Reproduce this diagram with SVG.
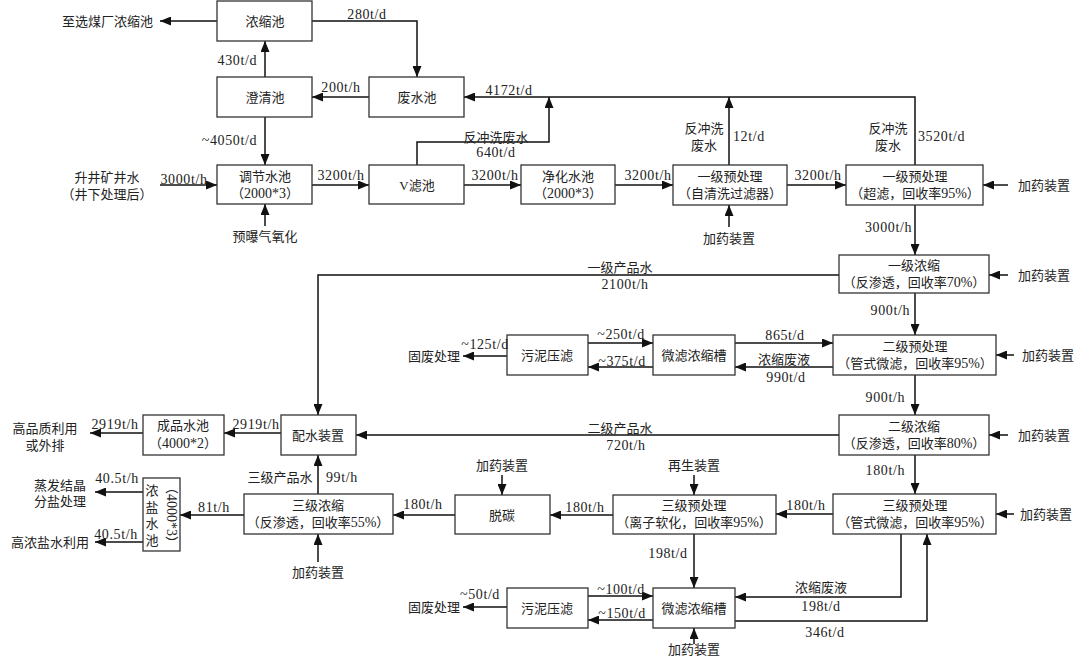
<svg xmlns="http://www.w3.org/2000/svg" width="1080" height="656" viewBox="0 0 1080 656">
<defs>
<marker id="ah" markerUnits="userSpaceOnUse" markerWidth="11" markerHeight="9" refX="11" refY="4.5" orient="auto">
<path d="M0,0 L11,4.5 L0,9 z" fill="#111"/>
</marker>
<style>
text{font-family:"Liberation Serif","Noto Sans CJK SC",serif;font-size:13px;fill:#222;}
.m{text-anchor:middle;}
.e{text-anchor:end;}
.d{font-size:14px;letter-spacing:0.6px;}
tspan.n{font-size:14px;}
rect{fill:#fff;stroke:#333;stroke-width:1.3;}
#connectors path{fill:none;stroke:#111;stroke-width:1.5;marker-end:url(#ah);}
</style>
</defs>
<rect x="0" y="0" width="1080" height="656" style="fill:#fff;stroke:none"/>

<g id="connectors">
<path d="M217,21 H160"/>
<path d="M312,21 H417 V77"/>
<path d="M265,77 V41"/>
<path d="M369,97 H312"/>
<path d="M265,117 V165"/>
<path d="M160,185 H217"/>
<path d="M265,226 V204"/>
<path d="M312,185 H369"/>
<path d="M464,185 H521"/>
<path d="M615,185 H673"/>
<path d="M787,185 H846"/>
<path d="M915,165 V97 H464"/>
<path d="M729,165 V97"/>
<path d="M417,165 V142 H549 V97"/>
<path d="M729,227 V205"/>
<path d="M1008,185 H983"/>
<path d="M915,205 V255"/>
<path d="M1008,275 H989"/>
<path d="M839,275 H318 V415"/>
<path d="M915,293 V335"/>
<path d="M1014,355 H996"/>
<path d="M735,343 H833"/>
<path d="M833,367 H735"/>
<path d="M588,343 H653"/>
<path d="M653,367 H588"/>
<path d="M507,356 H463"/>
<path d="M915,375 V415"/>
<path d="M1008,435 H989"/>
<path d="M839,435 H356"/>
<path d="M915,455 V494"/>
<path d="M1014,514 H996"/>
<path d="M833,514 H776"/>
<path d="M613,515 H550"/>
<path d="M455,515 H393"/>
<path d="M502,475 V495"/>
<path d="M694,475 V495"/>
<path d="M694,534 V588"/>
<path d="M901,534 V597 H735"/>
<path d="M735,621 H927 V534"/>
<path d="M588,596 H653"/>
<path d="M653,620 H588"/>
<path d="M507,607 H463"/>
<path d="M694,644 V628"/>
<path d="M244,515 H180"/>
<path d="M318,494 V455"/>
<path d="M318,562 V534"/>
<path d="M281,433 H224"/>
<path d="M143,433 H90"/>
<path d="M143,492 H95"/>
<path d="M143,542 H95"/>
</g>

<g id="n_nongsuochi"><rect x="217" y="1" width="95" height="40"/><text class="m" x="265" y="26">浓缩池</text></g>
<g id="n_chengqingchi"><rect x="217" y="77" width="95" height="40"/><text class="m" x="265" y="102">澄清池</text></g>
<g id="n_feishuichi"><rect x="369" y="77" width="95" height="40"/><text class="m" x="417" y="102">废水池</text></g>
<g id="n_tiaojie"><rect x="217" y="165" width="95" height="39"/><text class="m" x="265" y="181">调节水池</text><text class="m" x="265" y="198">（<tspan class="n">2000*3</tspan>）</text></g>
<g id="n_vlv"><rect x="369" y="165" width="95" height="39"/><text class="m" x="417" y="190">V滤池</text></g>
<g id="n_jinghua"><rect x="521" y="165" width="94" height="39"/><text class="m" x="568" y="181">净化水池</text><text class="m" x="568" y="198">（<tspan class="n">2000*3</tspan>）</text></g>
<g id="n_yiji_yu1"><rect x="673" y="165" width="114" height="40"/><text class="m" x="730" y="181">一级预处理</text><text class="m" x="730" y="198">（自清洗过滤器）</text></g>
<g id="n_yiji_yu2"><rect x="846" y="165" width="137" height="40"/><text class="m" x="915" y="181">一级预处理</text><text class="m" x="915" y="198">（超滤，回收率<tspan class="n">95%</tspan>）</text></g>
<g id="n_yiji_nong"><rect x="839" y="255" width="150" height="38"/><text class="m" x="914" y="270">一级浓缩</text><text class="m" x="914" y="287">（反渗透，回收率<tspan class="n">70%</tspan>）</text></g>
<g id="n_erji_yu"><rect x="833" y="335" width="163" height="40"/><text class="m" x="915" y="351">二级预处理</text><text class="m" x="915" y="368">（管式微滤，回收率<tspan class="n">95%</tspan>）</text></g>
<g id="n_erji_nong"><rect x="839" y="415" width="150" height="40"/><text class="m" x="914" y="431">二级浓缩</text><text class="m" x="914" y="448">（反渗透，回收率<tspan class="n">80%</tspan>）</text></g>
<g id="n_sanji_yu2"><rect x="833" y="494" width="163" height="40"/><text class="m" x="915" y="510">三级预处理</text><text class="m" x="915" y="527">（管式微滤，回收率<tspan class="n">95%</tspan>）</text></g>
<g id="n_wuni1"><rect x="507" y="335" width="81" height="40"/><text class="m" x="547" y="360">污泥压滤</text></g>
<g id="n_weilv1"><rect x="653" y="335" width="82" height="40"/><text class="m" x="694" y="360">微滤浓缩槽</text></g>
<g id="n_peishui"><rect x="281" y="415" width="75" height="40"/><text class="m" x="318" y="440">配水装置</text></g>
<g id="n_chengpin"><rect x="143" y="415" width="81" height="40"/><text class="m" x="183" y="430">成品水池</text><text class="m" x="183" y="448">（<tspan class="n">4000*2</tspan>）</text></g>
<g id="n_sanji_nong"><rect x="244" y="494" width="149" height="40"/><text class="m" x="318" y="510">三级浓缩</text><text class="m" x="318" y="527">（反渗透，回收率<tspan class="n">55%</tspan>）</text></g>
<g id="n_tuotan"><rect x="455" y="495" width="95" height="39"/><text class="m" x="502" y="520">脱碳</text></g>
<g id="n_sanji_yu1"><rect x="613" y="495" width="163" height="39"/><text class="m" x="694" y="510">三级预处理</text><text class="m" x="694" y="527">（离子软化，回收率<tspan class="n">95%</tspan>）</text></g>
<g id="n_wuni2"><rect x="507" y="588" width="81" height="40"/><text class="m" x="547" y="613">污泥压滤</text></g>
<g id="n_weilv2"><rect x="653" y="588" width="82" height="40"/><text class="m" x="694" y="613">微滤浓缩槽</text></g>
<g id="n_nongyan"><rect x="143" y="478" width="37" height="73"/>
<text class="m" x="152" y="495">浓</text><text class="m" x="152" y="512">盐</text><text class="m" x="152" y="528">水</text><text class="m" x="152" y="545">池</text>
<text class="m" transform="translate(171,515) rotate(90)" x="0" y="4">（<tspan class="n">4000*3</tspan>）</text></g>

<g id="labels">
<text class="e" x="153" y="26">至选煤厂浓缩池</text>
<text class="m d" x="367" y="19">280t/d</text>
<text class="e d" x="257" y="65">430t/d</text>
<text class="m d" x="341" y="92">200t/h</text>
<text class="e d" x="257" y="145">~4050t/d</text>
<text class="m" x="107" y="182">升井矿井水</text>
<text class="m" x="107" y="199">（井下处理后）</text>
<text class="m d" x="184" y="184">3000t/h</text>
<text class="m d" x="341" y="180">3200t/h</text>
<text class="m d" x="495" y="180">3200t/h</text>
<text class="m d" x="648" y="180">3200t/h</text>
<text class="m d" x="818" y="180">3200t/h</text>
<text class="m" x="265" y="241">预曝气氧化</text>
<text class="m d" x="509" y="95">4172t/d</text>
<text class="m" x="496" y="142">反冲洗废水</text>
<text class="m d" x="496" y="157">640t/d</text>
<text class="m" x="704" y="133">反冲洗</text>
<text class="m" x="704" y="150">废水</text>
<text class="d" x="733" y="141">12t/d</text>
<text class="m" x="888" y="133">反冲洗</text>
<text class="m" x="888" y="150">废水</text>
<text class="d" x="918" y="141">3520t/d</text>
<text class="m" x="729" y="243">加药装置</text>
<text x="1018" y="190">加药装置</text>
<text class="e d" x="912" y="232">3000t/h</text>
<text x="1018" y="280">加药装置</text>
<text class="m" x="620" y="272">一级产品水</text>
<text class="m d" x="625" y="289">2100t/h</text>
<text class="e d" x="910" y="315">900t/h</text>
<text class="m d" x="785" y="340">865t/d</text>
<text class="m" x="784" y="364">浓缩废液</text>
<text class="m d" x="786" y="382">990t/d</text>
<text x="1022" y="360">加药装置</text>
<text class="m d" x="621" y="339">~250t/d</text>
<text class="m d" x="622" y="366">~375t/d</text>
<text class="m d" x="485" y="349">~125t/d</text>
<text class="m" x="434" y="361">固废处理</text>
<text class="e d" x="905" y="402">900t/h</text>
<text x="1018" y="440">加药装置</text>
<text class="m" x="620" y="433">二级产品水</text>
<text class="m d" x="626" y="450">720t/h</text>
<text class="e d" x="905" y="475">180t/h</text>
<text class="m d" x="256" y="429">2919t/h</text>
<text class="m d" x="115" y="429">2919t/h</text>
<text class="m" x="45" y="433">高品质利用</text>
<text class="m" x="45" y="450">或外排</text>
<text class="m" x="280" y="482">三级产品水</text>
<text class="d" x="326" y="482">99t/h</text>
<text class="m d" x="117" y="483">40.5t/h</text>
<text class="m" x="60" y="490">蒸发结晶</text>
<text class="m" x="60" y="506">分盐处理</text>
<text class="m d" x="214" y="512">81t/h</text>
<text class="m d" x="116" y="539">40.5t/h</text>
<text class="m" x="50" y="547">高浓盐水利用</text>
<text class="m" x="318" y="577">加药装置</text>
<text class="m" x="502" y="470">加药装置</text>
<text class="m" x="694" y="470">再生装置</text>
<text class="m d" x="423" y="509">180t/h</text>
<text class="m d" x="585" y="512">180t/h</text>
<text class="m d" x="806" y="510">180t/h</text>
<text x="1020" y="519">加药装置</text>
<text class="m d" x="668" y="558">198t/d</text>
<text class="m d" x="621" y="594">~100t/d</text>
<text class="m d" x="622" y="618">~150t/d</text>
<text class="m d" x="480" y="599">~50t/d</text>
<text class="m" x="434" y="612">固废处理</text>
<text class="m" x="694" y="654">加药装置</text>
<text class="m" x="821" y="592">浓缩废液</text>
<text class="m d" x="821" y="611">198t/d</text>
<text class="m d" x="825" y="637">346t/d</text>
</g>
</svg>
